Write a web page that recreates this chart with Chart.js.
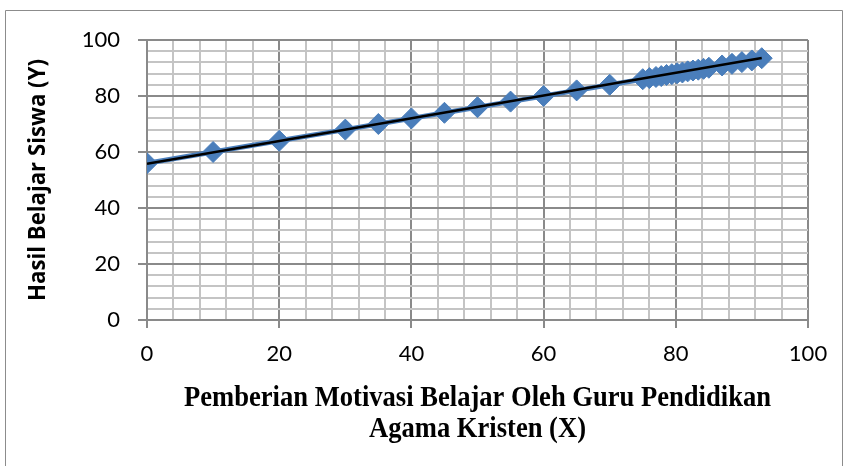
<!DOCTYPE html>
<html>
<head>
<meta charset="utf-8">
<script src="https://cdn.jsdelivr.net/npm/chart.js@4.4.1/dist/chart.umd.min.js"></script>
<style>
  html, body { margin: 0; padding: 0; background: #fff; }
  #wrap { width: 846px; height: 466px; }
</style>
</head>
<body>
<div id="wrap"><canvas id="chart" width="846" height="466"></canvas></div>
<script>
// data
const motivasiX = [0, 10, 20, 30, 35, 40, 45, 50, 55, 60, 65, 70, 75, 76, 77, 77.8, 78.6, 79.4,
                   80.2, 81, 81.8, 82.6, 83.4, 84.2, 85, 87, 88.5, 90, 91.5, 93];
const hasilY = [56, 60, 64, 68, 70, 72, 74, 76, 78, 80, 82, 84, 86, 86.4, 86.8, 87.1, 87.5, 87.8,
                88.1, 88.4, 88.8, 89.1, 89.4, 89.7, 90.1, 90.9, 91.5, 92.1, 92.7, 93.5];
const trendX = [0, 93];
const trendY = [55.8, 93.6];
const xTickLabels = [0, 20, 40, 60, 80, 100];
const yTickLabels = [0, 20, 40, 60, 80, 100];

const yTitle = 'Hasil Belajar Siswa (Y)';
const xTitleLines = ['Pemberian Motivasi Belajar Oleh Guru Pendidikan', 'Agama Kristen (X)'];

const points = motivasiX.map((x, i) => ({ x: x, y: hasilY[i] }));
const trend = trendX.map((x, i) => ({ x: x, y: trendY[i] }));

const MAJOR = '#8a8a8a';
const MINOR = '#c4c4c4';

function gridColor(ctx, labels) {
  const v = ctx.tick ? ctx.tick.value : null;
  return labels.includes(v) ? MAJOR : MINOR;
}
function tickColor(ctx, labels) {
  const v = ctx.tick ? ctx.tick.value : null;
  return labels.includes(v) ? MAJOR : 'rgba(0,0,0,0)';
}

// frame, background and titles
const decor = {
  id: 'decor',
  beforeDraw(chart) {
    const c = chart.ctx;
    c.save();
    c.fillStyle = '#fff';
    c.fillRect(0, 0, chart.width, chart.height);
    c.strokeStyle = '#8c8c8c';
    c.lineWidth = 1;
    c.beginPath();
    c.moveTo(5.5, chart.height);
    c.lineTo(5.5, 10.5);
    c.lineTo(842.5, 10.5);
    c.lineTo(842.5, chart.height);
    c.stroke();
    c.restore();
  },
  afterDraw(chart) {
    const c = chart.ctx;
    const area = chart.chartArea;
    c.save();
    // y title, condensed sans bold
    c.fillStyle = '#000';
    c.font = 'bold 23px "Open Sans"';
    c.textAlign = 'center';
    c.textBaseline = 'middle';
    const wy = c.measureText(yTitle).width;
    c.translate(38, (area.top + area.bottom) / 2);
    c.rotate(-Math.PI / 2);
    c.scale(242 / wy, 1);
    c.fillText(yTitle, 0, 0);
    c.restore();

    // x title, condensed serif
    c.save();
    c.fillStyle = '#000';
    c.font = 'bold 30px "Liberation Serif"';
    c.textAlign = 'center';
    c.textBaseline = 'alphabetic';
    const cx = (area.left + area.right) / 2;
    const w = c.measureText(xTitleLines[0]).width;
    c.translate(cx, 0);
    c.scale(587 / w, 1);
    c.fillText(xTitleLines[0], 0, 406);
    c.fillText(xTitleLines[1], 0, 437);
    c.restore();
  }
};

new Chart(document.getElementById('chart'), {
  type: 'scatter',
  data: {
    datasets: [
      {
        label: 'Trend',
        data: trend,
        showLine: true,
        borderColor: '#000',
        borderWidth: 2.5,
        pointRadius: 0,
        order: 0
      },
      {
        label: 'Hasil',
        data: points,
        showLine: true,
        borderColor: '#4a7ebb',
        borderWidth: 5,
        backgroundColor: '#4a7ebb',
        pointStyle: 'rectRot',
        pointRadius: 10.5,
        pointBorderWidth: 1,
        pointBorderColor: '#4a7ebb',
        order: 1
      }
    ]
  },
  options: {
    responsive: false,
    animation: false,
    layout: { padding: { top: 40, right: 38, left: 0, bottom: 0 } },
    plugins: {
      legend: { display: false },
      tooltip: { enabled: false }
    },
    scales: {
      x: {
        type: 'linear',
        min: 0,
        max: 100,
        afterFit: s => { s.height = 146; },
        border: { color: MAJOR, width: 2 },
        grid: {
          lineWidth: 2,
          color: ctx => gridColor(ctx, xTickLabels),
          tickColor: ctx => tickColor(ctx, xTickLabels),
          tickLength: 8
        },
        ticks: {
          stepSize: 4,
          autoSkip: false,
          maxRotation: 0,
          padding: 13,
          color: '#000',
          font: { family: 'Lato', size: 22 },
          callback: v => xTickLabels.includes(v) ? String(v) : ''
        }
      },
      y: {
        type: 'linear',
        min: 0,
        max: 100,
        afterFit: s => { s.width = 147; },
        border: { color: MAJOR, width: 2 },
        grid: {
          lineWidth: 2,
          color: ctx => gridColor(ctx, yTickLabels),
          tickColor: ctx => tickColor(ctx, yTickLabels),
          tickLength: 9
        },
        ticks: {
          stepSize: 4,
          autoSkip: false,
          padding: 18,
          color: '#000',
          font: { family: 'Lato', size: 22 },
          callback: v => yTickLabels.includes(v) ? String(v) : ''
        }
      }
    }
  },
  plugins: [decor]
});
</script>
</body>
</html>
